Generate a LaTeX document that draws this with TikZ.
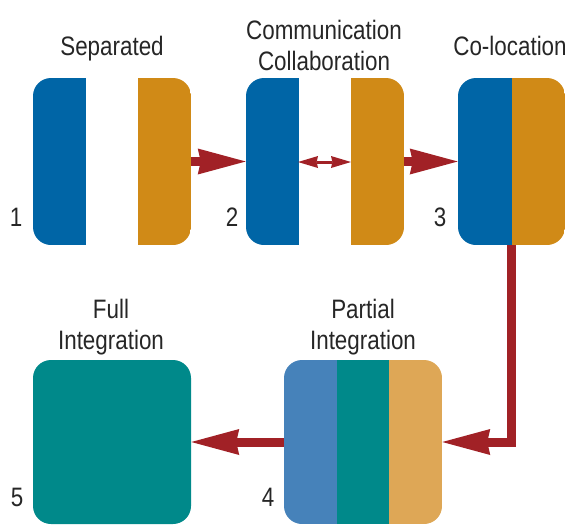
\documentclass[tikz,border=0pt]{standalone}
\usepackage{fontspec}
\setmainfont{Liberation Sans}[FakeStretch=0.84]
\usepackage{tikz}
\usetikzlibrary{arrows.meta,calc,positioning}

\definecolor{sepblue}{HTML}{0065A6}
\definecolor{sepgold}{HTML}{D08A17}
\definecolor{intteal}{HTML}{00898A}
\definecolor{partblue}{HTML}{4682BA}
\definecolor{partgold}{HTML}{DEA756}
\definecolor{arrowred}{HTML}{A12126}
\definecolor{txtgray}{HTML}{262626}

\tikzset{
  box/.style={fill=white, inner sep=0pt, rounded corners=13.5pt,
    minimum width=118.5pt, minimum height=125.25pt},
  strips/.style n args={3}{box, path picture={
    \fill[#1, sharp corners] (path picture bounding box.south west) rectangle
      ($(path picture bounding box.north west)!1/3!(path picture bounding box.north east)$);
    \fill[#2, sharp corners] ($(path picture bounding box.south west)!1/3!(path picture bounding box.south east)$) rectangle
      ($(path picture bounding box.north west)!2/3!(path picture bounding box.north east)$);
    \fill[#3, sharp corners] ($(path picture bounding box.south west)!2/3!(path picture bounding box.south east)$) rectangle
      (path picture bounding box.north east);}},
  halves/.style 2 args={box, path picture={
    \fill[#1, sharp corners] (path picture bounding box.south west) rectangle (path picture bounding box.north);
    \fill[#2, sharp corners] (path picture bounding box.south) rectangle (path picture bounding box.north east);}},
  title/.style={font=\fontsize{20}{23}\selectfont, text=txtgray, align=center, anchor=base, inner sep=0pt},
  num/.style={font=\fontsize{20}{23}\selectfont, text=txtgray, anchor=base, inner sep=0pt},
  bigarrow/.style={draw=arrowred, line width=6.75pt,
    -{Stealth[length=36pt,width=19.5pt,inset=2.25pt,line width=0pt]}},
  smallarrow/.style={draw=arrowred, line width=2.25pt,
    {Stealth[length=15pt,width=9pt,inset=1pt,line width=0pt]}-{Stealth[length=15pt,width=9pt,inset=1pt,line width=0pt]}}
}

\begin{document}
\begin{tikzpicture}[x=0.75pt,y=0.75pt,yscale=-1,xscale=1]
\useasboundingbox (0,0) rectangle (571,525);

%Boxes
\node [strips={sepblue}{white}{sepgold}] (b1) at (112,161.5) {};
\node [strips={sepblue}{white}{sepgold}] (b2) at (325,161.5) {};
\node [halves={sepblue}{sepgold}, minimum width=80.25pt] (b3) at (511.5,161.5) {};
\node [strips={partblue}{intteal}{partgold}, minimum height=123pt] (b4) at (363,442) {};
\node [box, fill=intteal, minimum height=123pt] (b5) at (112,442) {};

%Straight Lines
\draw [bigarrow] (b1.east) -- (b2.west);
\draw [bigarrow] (b2.east) -- (b3.west);
\draw [bigarrow] (b3.south) |- (b4.east);
\draw [bigarrow] (b4.west) -- (b5.east);

%Straight Lines
\coordinate (c2l) at (298,162);
\coordinate (c2r) at (351,162);
\draw [smallarrow] (c2l) -- (c2r);

% Text Node
\node [title] (t1) at (112,55) {Separated};
% Text Node
\node [title] (t2) at (324,70) {Communication\\Collaboration};
% Text Node
\node [title] (t3) at (510,55) {Co-location};
% Text Node
\node [title] (t4) at (363,349) {Partial\\Integration};
% Text Node
\node [title] (t5) at (111,349) {Full\\Integration};

% Text Node
\node [num] (n1) at (16,226) {1};
\node [num] (n2) at (232,226) {2};
\node [num] (n3) at (440,226) {3};
\node [num] (n4) at (268,506) {4};
\node [num] (n5) at (17,506) {5};

\end{tikzpicture}
\end{document}
